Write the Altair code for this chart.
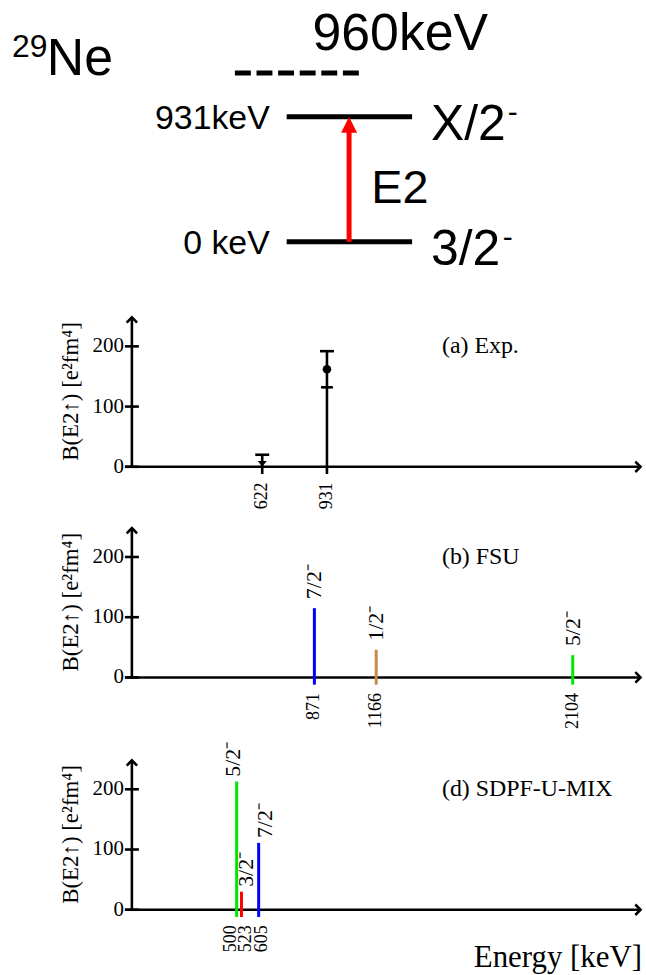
import altair as alt
import pandas as pd

# ---------------- data ----------------
# level scheme of 29Ne (top)
level_energy = [0, 931]
level_name = ["0 keV", "931keV"]
level_spin = ["3/2", "X/2"]
level_parity = ["-", "-"]
tentative_label = "960keV"
transition_label = "E2"
nucleus_A = "29"
nucleus_symbol = "Ne"

# (a) experiment
exp_energy = [622, 931]
exp_point = [None, 162]
exp_err_lo = [None, 132]
exp_err_hi = [20, 192]
exp_upper_limit = [True, False]

# (b) FSU
fsu_energy = [871, 1166, 2104]
fsu_bE2 = [115, 46, 37]
fsu_spin = ["7/2⁻", "1/2⁻", "5/2⁻"]

# (d) SDPF-U-MIX
sdpf_energy = [500, 523, 605]
sdpf_bE2 = [213, 30, 111]
sdpf_spin = ["5/2⁻", "3/2⁻", "7/2⁻"]

y_ticks = [0, 100, 200]
panel_titles = ["(a) Exp.", "(b) FSU", "(d) SDPF-U-MIX"]
y_title = "B(E2↑) [e²fm⁴]"
x_title = "Energy [keV]"

# ---------------- style / layout ----------------
spin_colors = {"7/2⁻": "#0000ff", "1/2⁻": "#c8884a", "5/2⁻": "#00e600", "3/2⁻": "#ff0000"}
SERIF = "Liberation Serif"
SANS = "Liberation Sans"
W = 646
PX_PER_KEV = 0.2105
X0_PX = 132.5
XDOM = [-X0_PX / PX_PER_KEV, (W - X0_PX) / PX_PER_KEV]
K = 0.605  # px per B(E2) unit
X_TIP = (643.5 - X0_PX) / PX_PER_KEV
Y_TIP = 248
TICK_HALF = 7 / PX_PER_KEV
CAP_HALF = 7 / PX_PER_KEV
TICK_DOWN = -12
YLAB_X = -8 / PX_PER_KEV
YTITLE_X = -61 / PX_PER_KEV
PTITLE_X = (444 - X0_PX) / PX_PER_KEV
XTITLE_X = (645 - X0_PX) / PX_PER_KEV
AXW = 2.6
UP_HEAD = "M -1 1 L 0 0 L 1 1"
RIGHT_HEAD = "M -1 -1 L 0 0 L -1 1"
DOWN_TRI = "M -1 -1.3 L 1 -1.3 L 0 0 Z"
ARROW_HEAD = "M 0 0 L -1 2 L 1 2 Z"
FS_YTICK, FS_XTICK, FS_SPIN, FS_YTITLE, FS_PTITLE, FS_XTITLE = 21, 18, 22, 23, 24, 31

color_scale = alt.Scale(domain=list(spin_colors.keys()), range=list(spin_colors.values()))


def encs(ysc):
    xsc = alt.Scale(domain=XDOM, nice=False, zero=False)
    return (lambda f: alt.X(f"{f}:Q", scale=xsc, axis=None),
            lambda f: alt.Y(f"{f}:Q", scale=ysc, axis=None))


def y_scale(H, zero_px):
    return alt.Scale(domain=[-(H - zero_px) / K, zero_px / K], nice=False, zero=False)


def axis_layers(ysc, title):
    X, Y = encs(ysc)
    L = []
    L.append(alt.Chart(pd.DataFrame({"x": [-TICK_HALF], "x2": [X_TIP], "y": [0]}))
             .mark_rule(color="black", strokeWidth=AXW)
             .encode(x=X("x"), x2="x2:Q", y=Y("y")))
    L.append(alt.Chart(pd.DataFrame({"x": [0], "y": [0], "y2": [Y_TIP]}))
             .mark_rule(color="black", strokeWidth=AXW)
             .encode(x=X("x"), y=Y("y"), y2="y2:Q"))
    L.append(alt.Chart(pd.DataFrame({"x": [X_TIP, 0], "y": [0, Y_TIP], "s": [RIGHT_HEAD, UP_HEAD]}))
             .mark_point(filled=False, color="black", strokeWidth=AXW, size=110, opacity=1)
             .encode(x=X("x"), y=Y("y"), shape=alt.Shape("s:N", scale=None)))
    ticks = pd.DataFrame({"y": y_ticks, "t": [str(v) for v in y_ticks]})
    L.append(alt.Chart(ticks)
             .transform_calculate(a=str(-TICK_HALF), b=str(TICK_HALF))
             .mark_rule(color="black", strokeWidth=AXW)
             .encode(x=X("a"), x2="b:Q", y=Y("y")))
    L.append(alt.Chart(ticks)
             .transform_calculate(lx=str(YLAB_X))
             .mark_text(font=SERIF, fontSize=FS_YTICK, align="right", baseline="middle", color="black")
             .encode(x=X("lx"), y=Y("y"), text="t:N"))
    L.append(alt.Chart(pd.DataFrame({"x": [YTITLE_X], "y": [125], "t": [y_title]}))
             .mark_text(font=SERIF, fontSize=FS_YTITLE, angle=270, align="center", baseline="middle",
                        color="black")
             .encode(x=X("x"), y=Y("y"), text="t:N"))
    L.append(alt.Chart(pd.DataFrame({"x": [PTITLE_X], "y": [200], "t": [title]}))
             .mark_text(font=SERIF, fontSize=FS_PTITLE, align="left", baseline="middle", color="black")
             .encode(x=X("x"), y=Y("y"), text="t:N"))
    return L


def energy_labels(df, ysc, nudges=None):
    X, Y = encs(ysc)
    L = []
    if nudges is None:
        nudges = [0] * len(df)
    for e, nd in zip(df["E"], nudges):
        L.append(alt.Chart(df).transform_filter(f"datum.E == {e}")
                 .transform_calculate(ly="-26", t="'' + datum.E")
                 .mark_text(font=SERIF, fontSize=FS_XTICK, angle=270, align="right", baseline="middle",
                            color="black", dy=nd)
                 .encode(x=X("E"), y=Y("ly"), text="t:N"))
    return L


def stick_layers(df, ysc, gap, nudges=None):
    X, Y = encs(ysc)
    L = []
    L.append(alt.Chart(df).transform_calculate(b=str(TICK_DOWN))
             .mark_rule(strokeWidth=3)
             .encode(x=X("E"), y=Y("b"), y2="v:Q",
                     color=alt.Color("spin:N", scale=color_scale, legend=None)))
    if nudges is None:
        nudges = [0] * len(df)
    for e, nd in zip(df["E"], nudges):
        L.append(alt.Chart(df).transform_filter(f"datum.E == {e}")
                 .transform_calculate(ly=f"datum.v + {gap}")
                 .mark_text(font=SERIF, fontSize=FS_SPIN, angle=270, align="left", baseline="middle",
                            color="black", dy=nd)
                 .encode(x=X("E"), y=Y("ly"), text="spin:N"))
    return L


# ---------------- top: level scheme ----------------
TOP_H = 300
LVL_K = 125.7 / 931
LVL_ZERO_PX = 240.7
top_ysc = alt.Scale(domain=[-(TOP_H - LVL_ZERO_PX) / LVL_K, LVL_ZERO_PX / LVL_K], nice=False, zero=False)
top_xsc = alt.Scale(domain=[0, W], nice=False, zero=False)
LEVEL_X = (288, 414)
TENT_X = (236, 361)
TENT_DRAW_E = (LVL_ZERO_PX - 71) / LVL_K   # tentative level drawn above for clarity
ARROW_X = 350.7
PARITY_X = [505, 510]


def TX(f):
    return alt.X(f"{f}:Q", scale=top_xsc, axis=None)


def TY(f):
    return alt.Y(f"{f}:Q", scale=top_ysc, axis=None)


lv = pd.DataFrame({"E": level_energy, "name": level_name, "spin": level_spin, "par": level_parity})
top_layers = [
    alt.Chart(lv).transform_calculate(x0=str(LEVEL_X[0]), x1=str(LEVEL_X[1]))
    .mark_rule(color="black", strokeWidth=5)
    .encode(x=TX("x0"), x2="x1:Q", y=TY("E")),
    alt.Chart(pd.DataFrame({"E": [TENT_DRAW_E], "x0": [TENT_X[0]], "x1": [TENT_X[1]]}))
    .mark_rule(color="black", strokeWidth=5, strokeDash=[16, 5.7])
    .encode(x=TX("x0"), x2="x1:Q", y=TY("E")),
    alt.Chart(pd.DataFrame({"E": [TENT_DRAW_E], "x": [314], "t": [tentative_label]}))
    .mark_text(font=SANS, fontSize=52, align="left", baseline="alphabetic", dy=-23, color="black")
    .encode(x=TX("x"), y=TY("E"), text="t:N"),
    alt.Chart(lv).transform_calculate(x="271")
    .mark_text(font=SANS, fontSize=34, align="right", baseline="middle", dy=2, color="black")
    .encode(x=TX("x"), y=TY("E"), text="name:N"),
    alt.Chart(lv).transform_calculate(x="433")
    .mark_text(font=SANS, fontSize=50, align="left", baseline="alphabetic", dy=23, color="black")
    .encode(x=TX("x"), y=TY("E"), text="spin:N"),
]
for e, px in zip(level_energy, PARITY_X):
    top_layers.append(
        alt.Chart(lv).transform_filter(f"datum.E == {e}").transform_calculate(x=str(px))
        .mark_text(font=SANS, fontSize=30, align="left", baseline="alphabetic", dy=5, color="black")
        .encode(x=TX("x"), y=TY("E"), text="par:N"))
top_layers += [
    alt.Chart(pd.DataFrame({"x": [ARROW_X], "E0": [level_energy[0]], "E1": [level_energy[1] - 8 / LVL_K]}))
    .mark_rule(color="#ff0000", strokeWidth=5)
    .encode(x=TX("x"), y=TY("E0"), y2="E1:Q"),
    alt.Chart(pd.DataFrame({"x": [ARROW_X], "E": [level_energy[1]], "s": [ARROW_HEAD]}))
    .mark_point(filled=True, color="#ff0000", size=256, opacity=1, strokeWidth=0)
    .encode(x=TX("x"), y=TY("E"), shape=alt.Shape("s:N", scale=None)),
    alt.Chart(pd.DataFrame({"x": [373], "E": [sum(level_energy) / 2], "t": [transition_label]}))
    .mark_text(font=SANS, fontSize=47, align="left", baseline="alphabetic", dy=24, color="black")
    .encode(x=TX("x"), y=TY("E"), text="t:N"),
    alt.Chart(pd.DataFrame({"t": [nucleus_A]}))
    .mark_text(font=SANS, fontSize=32, align="left", baseline="alphabetic", color="black")
    .encode(x=alt.value(12), y=alt.value(55), text="t:N"),
    alt.Chart(pd.DataFrame({"t": [nucleus_symbol]}))
    .mark_text(font=SANS, fontSize=52, align="left", baseline="alphabetic", color="black")
    .encode(x=alt.value(47), y=alt.value(73), text="t:N"),
]
top = alt.layer(*top_layers).properties(width=W, height=TOP_H)

# ---------------- panel (a) ----------------
HA, ZA = 215, 166.7
ysa = y_scale(HA, ZA)
Xa, Ya = encs(ysa)
exp_df = pd.DataFrame({"E": exp_energy, "v": exp_point, "lo": exp_err_lo, "hi": exp_err_hi,
                       "ul": exp_upper_limit})
a_layers = axis_layers(ysa, panel_titles[0]) + [
    alt.Chart(exp_df).transform_calculate(b=str(TICK_DOWN))
    .mark_rule(color="black", strokeWidth=AXW)
    .encode(x=Xa("E"), y=Ya("b"), y2="hi:Q"),
    alt.Chart(exp_df).transform_calculate(a=f"datum.E - {CAP_HALF}", c=f"datum.E + {CAP_HALF}")
    .mark_rule(color="black", strokeWidth=AXW)
    .encode(x=Xa("a"), x2="c:Q", y=Ya("hi")),
    alt.Chart(exp_df).transform_filter("isValid(datum.lo)")
    .transform_calculate(a=f"datum.E - {CAP_HALF * 0.85}", c=f"datum.E + {CAP_HALF * 0.85}")
    .mark_rule(color="black", strokeWidth=AXW)
    .encode(x=Xa("a"), x2="c:Q", y=Ya("lo")),
    alt.Chart(exp_df).transform_filter("isValid(datum.v)")
    .mark_point(filled=True, shape="circle", size=75, color="black", opacity=1)
    .encode(x=Xa("E"), y=Ya("v")),
    alt.Chart(exp_df).transform_filter("datum.ul")
    .transform_calculate(z="0", s=f"'{DOWN_TRI}'")
    .mark_point(filled=True, size=81, color="black", opacity=1)
    .encode(x=Xa("E"), y=Ya("z"), shape=alt.Shape("s:N", scale=None)),
] + energy_labels(exp_df, ysa)
pa = alt.layer(*a_layers).properties(width=W, height=HA)

# ---------------- panel (b) ----------------
HB, ZB = 225, 163.3
ysb = y_scale(HB, ZB)
fsu_df = pd.DataFrame({"E": fsu_energy, "v": fsu_bE2, "spin": fsu_spin})
b_layers = axis_layers(ysb, panel_titles[1]) + stick_layers(fsu_df, ysb, 15) + energy_labels(fsu_df, ysb)
pb = alt.layer(*b_layers).properties(width=W, height=HB)

# ---------------- panel (d) ----------------
HD, ZD = 235, 171.7
ysd = y_scale(HD, ZD)
Xd, Yd = encs(ysd)
sdpf_df = pd.DataFrame({"E": sdpf_energy, "v": sdpf_bE2, "spin": sdpf_spin})
d_layers = (axis_layers(ysd, panel_titles[2])
            + stick_layers(sdpf_df, ysd, 8, nudges=[-3.5, 4.5, 6])
            + energy_labels(sdpf_df, ysd, nudges=[-6, 5, 3])
            + [alt.Chart(pd.DataFrame({"x": [XTITLE_X], "y": [-95.5], "t": [x_title]}))
               .mark_text(font=SERIF, fontSize=FS_XTITLE, align="right", baseline="alphabetic", color="black")
               .encode(x=Xd("x"), y=Yd("y"), text="t:N")])
pd_chart = alt.layer(*d_layers).properties(width=W, height=HD)

chart = (alt.vconcat(top, pa, pb, pd_chart, spacing=0, bounds="flush", padding=0, background="white")
         .configure_view(stroke=None))

chart.save("out.html", embed_options={"renderer": "svg", "actions": False})
